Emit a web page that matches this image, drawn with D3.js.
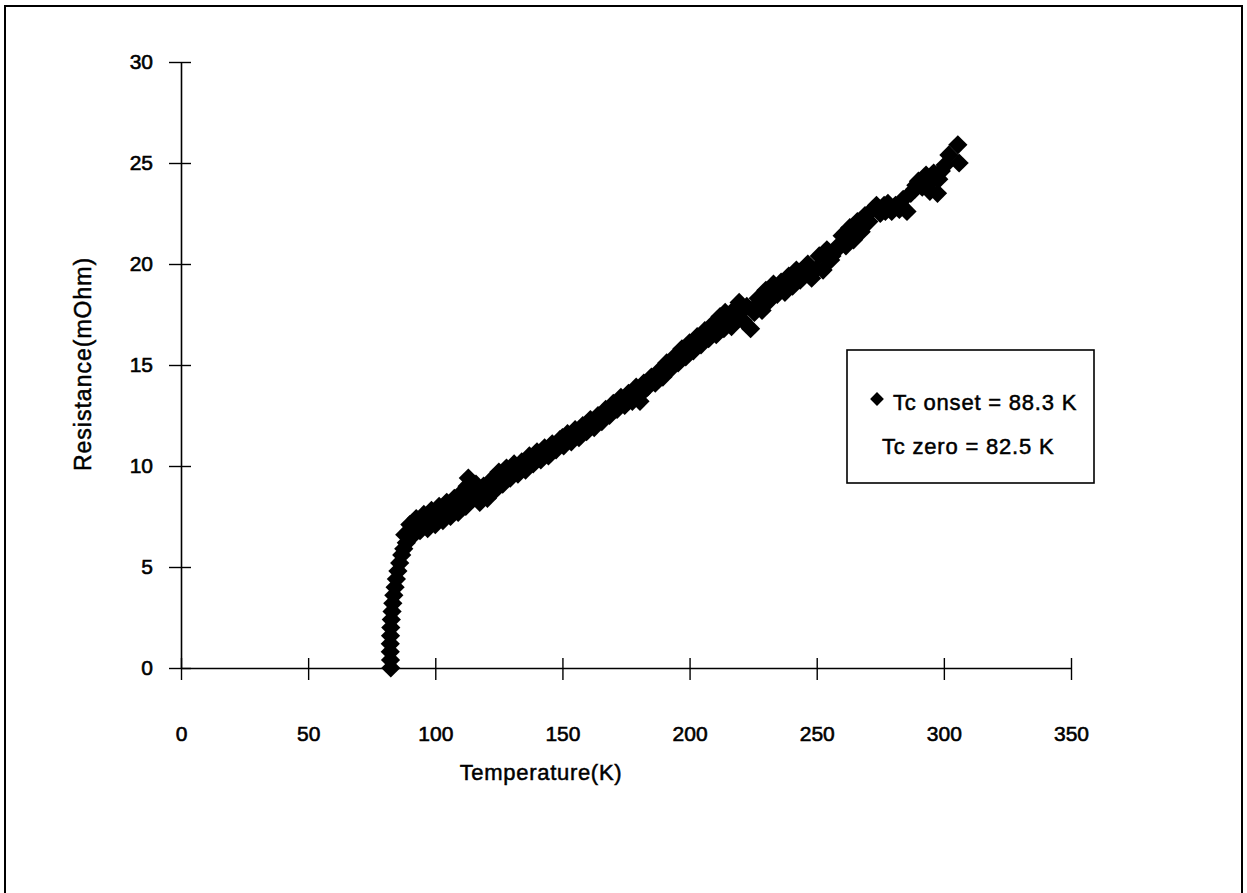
<!DOCTYPE html>
<html>
<head>
<meta charset="utf-8">
<script src="https://cdn.jsdelivr.net/npm/d3@7"></script>
<style>
  body { margin: 0; background: #fff; }
  text { font-family: "Liberation Sans", Arial, sans-serif; fill: #000; }
</style>
</head>
<body>
<div id="chart"></div>
<script>
// temperature (K) and resistance (mOhm)
const temperature = [
  82.5, 82.4, 82.3, 82.3, 82.4, 82.5, 82.7, 83.0, 83.3, 83.7,
  84.2, 84.7, 85.3, 86.0, 86.8, 87.6, 88.6, 89.8, 91.2,
  88.0, 90.0, 91.5, 92.5, 94, 95.5, 97, 98.5, 100, 101.5,
  103, 104.5, 106, 107.5, 109, 110.5, 112, 113, 114.5, 116,
  117.5, 119, 120.5, 122, 123.5, 125, 126.5, 128, 129.5, 131,
  132.5, 134, 135.5, 137, 138.5, 140, 141.5, 143, 144.5, 146,
  147.5, 149, 150.5, 152, 153.5, 155, 156.5, 158, 159.5, 161,
  162.5, 164, 165.5, 167, 168.5, 170, 171.5, 173, 174.5, 176,
  177.5, 179, 180.5, 182, 183.5, 185, 186.5, 188, 189.5, 191,
  192.5, 194, 195.5, 197, 198.5, 200, 201.5, 203, 204.5, 206,
  207.5, 209, 210.5, 212, 213.5, 215, 216.5, 218, 219.5, 221,
  222.5, 224, 225.5, 227, 228.5, 230, 231.5, 233, 234.5, 236,
  237.5, 239, 240.5, 242, 243.5, 245, 246.5, 248, 249.5, 251,
  252.5, 254, 255.5, 257, 258.5, 260, 261.5, 263, 264.5, 266,
  267.5, 269, 270.5, 272, 273.5, 275, 276.5, 278, 279.5, 281,
  282.5, 284, 285.5, 287, 288.5, 290, 291.5, 293, 294.5, 296,
  297.5, 299, 300.5, 302, 305.5, 306,
  93, 96, 99, 102, 105, 108, 111, 112.5, 115, 118,
  121, 124, 127, 130, 133, 136, 139, 142, 150, 157,
  163, 166, 172, 178, 181, 187, 196, 202, 208, 211,
  214, 217, 220, 226, 232, 238, 244, 247, 256, 262,
  268, 277, 283, 289, 295, 298
];
const resistance = [
  0, 0.4, 0.8, 1.2, 1.6, 2.0, 2.4, 2.8, 3.2, 3.6,
  4.0, 4.4, 4.8, 5.2, 5.6, 5.9, 6.2, 6.5, 6.8,
  6.6, 7.1, 6.6, 7.4, 6.8, 7.6, 6.9, 7.8, 7.1, 8.0,
  7.3, 8.2, 7.5, 8.4, 7.7, 8.7, 8.0, 9.4, 8.4, 9.1,
  8.2, 9.0, 8.4, 9.3, 8.8, 9.7, 9.1, 9.9, 9.4, 10.1,
  9.6, 10.2, 9.8, 10.5, 10.1, 10.7, 10.3, 10.9, 10.5, 11.1,
  10.8, 11.3, 11.0, 11.6, 11.2, 11.8, 11.4, 12.0, 11.7, 12.3,
  11.9, 12.5, 12.2, 12.8, 12.5, 13.1, 12.8, 13.4, 13.0, 13.6,
  13.2, 13.9, 13.2, 14.1, 13.9, 14.4, 14.1, 14.7, 14.4, 15.1,
  14.8, 15.4, 15.1, 15.8, 15.4, 16.1, 15.7, 16.4, 16.0, 16.7,
  16.3, 17.0, 16.5, 17.4, 16.8, 17.3, 16.9, 17.8, 18.1, 17.2,
  17.9, 16.8, 17.6, 18.3, 17.7, 18.7, 18.2, 19.0, 18.5, 19.1,
  18.6, 19.4, 18.9, 19.7, 19.2, 19.6, 20.0, 19.3, 19.7, 20.4,
  19.7, 20.7, 20.2, 20.6, 20.9, 21.4, 20.9, 21.8, 21.2, 22.1,
  21.6, 22.4, 22.1, 22.7, 22.9, 22.5, 22.9, 23.0, 22.6, 22.9,
  22.7, 23.2, 22.6, 23.5, 23.7, 24.1, 23.8, 24.4, 23.6, 24.5,
  23.5, 24.6, 24.9, 25.4, 25.9, 25.0,
  7.2, 7.3, 7.5, 7.6, 7.9, 8.0, 8.3, 9.0, 8.7, 8.6,
  8.9, 9.2, 9.5, 9.8, 9.9, 10.2, 10.4, 10.6, 11.4, 11.7,
  12.1, 12.4, 13.1, 13.5, 13.6, 14.3, 15.5, 15.9, 16.6, 16.9,
  17.6, 17.3, 17.6, 17.9, 18.5, 19.0, 19.4, 19.6, 20.4, 21.3,
  22.0, 22.6, 22.9, 23.9, 24.1, 24.2
];
const xTicks = [0, 50, 100, 150, 200, 250, 300, 350];
const yTicks = [0, 5, 10, 15, 20, 25, 30];
const legendLines = ['Tc onset = 88.3 K', 'Tc zero = 82.5 K'];

const data = temperature.map((t, i) => ({t: t, r: resistance[i]}));

const W = 1247;
const H = 893;

const svg = d3.select('#chart').append('svg')
    .attr('width', W)
    .attr('height', H);

svg.append('rect').attr('width', W).attr('height', H).attr('fill', '#fff');

// outer frame
svg.append('rect')
    .attr('x', 5).attr('y', 6)
    .attr('width', 1237).attr('height', 900)
    .attr('fill', 'none')
    .attr('stroke', '#000')
    .attr('stroke-width', 2);

const x = d3.scaleLinear().domain([0, 350]).range([181, 1071]);
const y = d3.scaleLinear().domain([0, 30]).range([668, 62]);

// x axis, ticks crossing the line
const gx = svg.append('g')
    .attr('transform', 'translate(0,' + y(0) + ')')
    .call(d3.axisBottom(x).tickValues(xTicks).tickSize(0).tickPadding(0));
gx.select('.domain').attr('stroke', '#000').attr('stroke-width', 1.6);
gx.selectAll('.tick line').attr('y1', -10).attr('y2', 12)
    .attr('stroke', '#000').attr('stroke-width', 1.4);
gx.selectAll('.tick text')
    .attr('y', 73)
    .attr('dy', 0)
    .style('font-family', '"Liberation Sans", Arial, sans-serif')
    .style('font-size', '21px')
    .attr('fill', '#000')
    .attr('stroke', '#000')
    .attr('stroke-width', 0.6);

// y axis
const gy = svg.append('g')
    .attr('transform', 'translate(' + x(0) + ',0)')
    .call(d3.axisLeft(y).tickValues(yTicks).tickSize(0).tickPadding(0));
gy.select('.domain').attr('stroke', '#000').attr('stroke-width', 1.6);
gy.selectAll('.tick line').attr('x1', -12).attr('x2', 10)
    .attr('stroke', '#000').attr('stroke-width', 1.4);
gy.selectAll('.tick text')
    .attr('x', -28)
    .attr('dy', '0.3em')
    .style('font-family', '"Liberation Sans", Arial, sans-serif')
    .style('font-size', '21px')
    .attr('fill', '#000')
    .attr('stroke', '#000')
    .attr('stroke-width', 0.6);

// axis titles
svg.append('text')
    .attr('x', 541).attr('y', 780)
    .attr('text-anchor', 'middle')
    .style('font-size', '22px')
    .style('letter-spacing', '0.7px')
    .attr('stroke', '#000').attr('stroke-width', 0.5)
    .text('Temperature(K)');

svg.append('text')
    .attr('transform', 'translate(91,364) rotate(-90)')
    .attr('text-anchor', 'middle')
    .style('font-size', '23px')
    .style('letter-spacing', '1px')
    .attr('stroke', '#000').attr('stroke-width', 0.5)
    .text('Resistance(mOhm)');

// data markers: square turned 45 degrees
const marker = d3.symbol().type(d3.symbolSquare).size(185);
svg.append('g')
    .selectAll('path')
    .data(data)
    .join('path')
    .attr('d', marker)
    .attr('transform', (d) => 'translate(' + x(d.t) + ',' + y(d.r) + ') rotate(45)')
    .attr('fill', '#000');

// legend
const lg = svg.append('g');
lg.append('rect')
    .attr('x', 847).attr('y', 350)
    .attr('width', 247).attr('height', 133)
    .attr('fill', '#fff')
    .attr('stroke', '#000')
    .attr('stroke-width', 1.6);
lg.append('path')
    .attr('d', d3.symbol().type(d3.symbolSquare).size(95))
    .attr('transform', 'translate(877,399) rotate(45)')
    .attr('fill', '#000');
lg.selectAll('text.leg')
    .data(legendLines)
    .join('text')
    .attr('class', 'leg')
    .attr('x', (d, i) => i === 0 ? 893 : 882)
    .attr('y', (d, i) => 410 + i * 44)
    .style('font-size', '22px')
    .style('letter-spacing', '0.8px')
    .attr('stroke', '#000').attr('stroke-width', 0.5)
    .text((d) => d);
</script>
</body>
</html>
